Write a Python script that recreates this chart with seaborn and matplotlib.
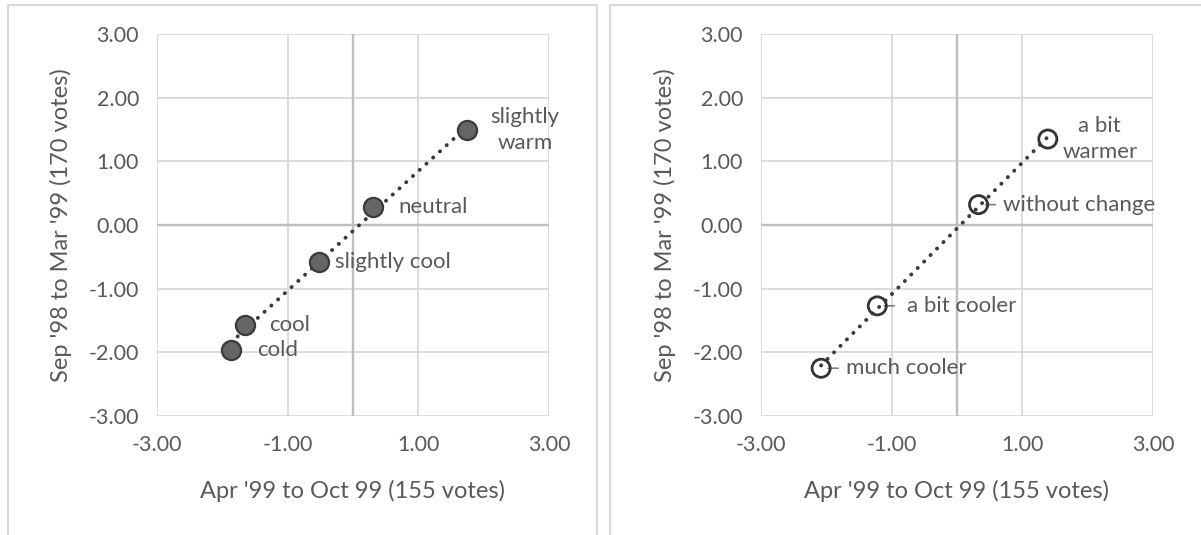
import numpy as np
import pandas as pd
import matplotlib
matplotlib.use("Agg")
import matplotlib.pyplot as plt
from matplotlib.patches import Rectangle
import seaborn as sns

# left panel: thermal sensation votes
sens_labels = ["slightly\nwarm", "neutral", "slightly cool", "cool", "cold"]
sens_x = [1.75, 0.31, -0.52, -1.66, -1.87]
sens_y = [1.49, 0.29, -0.58, -1.57, -1.96]

# right panel: thermal preference votes
pref_labels = ["a bit\nwarmer", "without change", "a bit cooler", "much cooler"]
pref_x = [1.39, 0.33, -1.22, -2.08]
pref_y = [1.35, 0.32, -1.27, -2.25]

x_ticks = [-3, -1, 1, 3]
y_ticks = [-3, -2, -1, 0, 1, 2, 3]
x_title = "Apr '99 to Oct 99 (155 votes)"
y_title = "Sep '98 to Mar '99 (170 votes)"

TXT = "#595959"
sns.set_style("white")
plt.rcParams["font.family"] = ["Lato", "DejaVu Sans"]

W, H = 1201, 535
fig = plt.figure(figsize=(W / 100, H / 100), dpi=100)

# chart borders (Excel style)
for x0, x1 in [(8, 597), (610, 1210)]:
    fig.add_artist(Rectangle((x0 / W, -0.05), (x1 - x0) / W, (H - 5) / H + 0.05,
                             transform=fig.transFigure, fill=False,
                             edgecolor="#D9D9D9", linewidth=1.5))


def make_axes(left_px):
    return fig.add_axes([left_px / W, (H - 416) / H, 392 / W, 382 / H])


def style_axes(ax):
    ax.set_xlim(-3, 3)
    ax.set_ylim(-3, 3)
    ax.set_xticks(x_ticks)
    ax.set_yticks(y_ticks)
    ax.set_xticklabels([f"{v:.2f}" for v in x_ticks])
    ax.set_yticklabels([f"{v:.2f}" for v in y_ticks])
    ax.grid(True, color="#D9D9D9", linewidth=1.3)
    ax.axhline(0, color="#BFBFBF", linewidth=1.6, zorder=1)
    ax.axvline(0, color="#BFBFBF", linewidth=1.6, zorder=1)
    for s in ax.spines.values():
        s.set_visible(False)
    ax.tick_params(axis="both", length=0, labelsize=15.5, labelcolor=TXT)
    ax.tick_params(axis="x", pad=14)
    ax.tick_params(axis="y", pad=13)
    ax.set_xlabel(x_title, fontsize=17, color=TXT)
    ax.set_ylabel(y_title, fontsize=17, color=TXT)
    ax.xaxis.set_label_coords(0.5, -0.195)
    ax.xaxis.label.set_va("center")
    ax.yaxis.set_label_coords(-0.245, 0.5)
    ax.yaxis.label.set_va("center")
    ax.set_axisbelow(True)


line_kws = dict(color="#3a3a3a", linewidth=2.8, linestyle=(0, (0.05, 2.3)),
                dash_capstyle="round")

# ---- left panel
ax1 = make_axes(157)
style_axes(ax1)
df1 = pd.DataFrame({"x": sens_x, "y": sens_y})
sns.regplot(data=df1, x="x", y="y", scatter=False, ci=None, ax=ax1, line_kws=line_kws)
sns.scatterplot(data=df1, x="x", y="y", ax=ax1, s=190, color="#666666",
                edgecolor="#3a3a3a", linewidth=1.6, zorder=5)
style_axes(ax1)
offs1 = [(58, "center"), (25, "left"), (16, "left"), (25, "left"), (26, "left")]
for lab, x, y, (dx, ha) in zip(sens_labels, sens_x, sens_y, offs1):
    ax1.annotate(lab, (x, y), xytext=(dx, 0), textcoords="offset pixels",
                 ha=ha, va="center", fontsize=16, color=TXT, linespacing=1.4)

# ---- right panel
ax2 = make_axes(761)
style_axes(ax2)
df2 = pd.DataFrame({"x": pref_x, "y": pref_y})
sns.regplot(data=df2, x="x", y="y", scatter=False, ci=None, ax=ax2, line_kws=line_kws)
sns.scatterplot(data=df2, x="x", y="y", ax=ax2, s=170, facecolor="none",
                edgecolor="#333333", linewidth=2.0, zorder=5)
style_axes(ax2)
offs2 = [(52, "center"), (24, "left"), (30, "left"), (25, "left")]
for i, (lab, x, y, (dx, ha)) in enumerate(zip(pref_labels, pref_x, pref_y, offs2)):
    ax2.annotate(lab, (x, y), xytext=(dx, 0), textcoords="offset pixels",
                 ha=ha, va="center", fontsize=16, color=TXT, linespacing=1.4)
    if i > 0:
        ax2.annotate("", (x, y), xytext=(17, 0), textcoords="offset pixels",
                     arrowprops=dict(arrowstyle="-", color="#7f7f7f", lw=1.2,
                                     shrinkA=0, shrinkB=5))

fig.savefig("out.png", dpi=100)
